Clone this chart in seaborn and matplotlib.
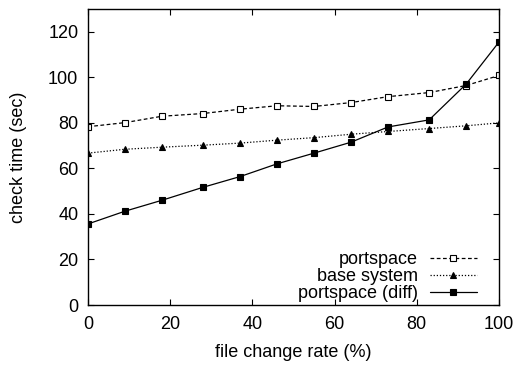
import matplotlib
matplotlib.use("Agg")
import matplotlib.pyplot as plt
import seaborn as sns
import pandas as pd

x_rate = [0, 9, 18, 28, 37, 46, 55, 64, 73, 83, 92, 100]
portspace = [78.3, 80.1, 82.9, 84.1, 86.0, 87.5, 87.2, 88.9, 91.5, 93.3, 96.4, 100.8]
base_system = [66.7, 68.4, 69.3, 70.2, 71.1, 72.4, 73.5, 75.0, 76.2, 77.5, 78.7, 80.0]
portspace_diff = [35.6, 41.2, 46.0, 51.7, 56.4, 62.0, 66.7, 71.5, 78.2, 81.3, 97.0, 115.5]

sns.set_style("ticks")
plt.rcParams['font.family'] = ['Liberation Sans', 'DejaVu Sans']
plt.rcParams['text.color'] = 'black'
plt.rcParams['axes.labelcolor'] = 'black'
plt.rcParams['xtick.color'] = 'black'
plt.rcParams['ytick.color'] = 'black'

fig = plt.figure(figsize=(5.16, 3.65), dpi=100)
ax = fig.add_axes([88/516, 1-305/365, (499-88)/516, (305-9)/365])

series = [
    ("portspace", portspace, (0, (3, 2)), "s", "white", 4.5),
    ("base system", base_system, (0, (1, 1.5)), "^", "black", 4.5),
    ("portspace (diff)", portspace_diff, "-", "s", "black", 4.5),
]
for name, vals, ls, mk, mfc, ms in series:
    df = pd.DataFrame({"x": x_rate, "y": vals})
    sns.lineplot(data=df, x="x", y="y", ax=ax, color="black", linewidth=0.9,
                 linestyle=ls, marker=mk, markersize=ms, markerfacecolor=mfc,
                 markeredgecolor="black", markeredgewidth=0.8, label=name)

ax.set_xlim(0, 100)
ax.set_ylim(0, 130)
ax.set_xticks([0, 20, 40, 60, 80, 100])
ax.set_yticks([0, 20, 40, 60, 80, 100, 120])
ax.tick_params(direction="in", top=True, right=True, length=4, width=0.8,
               labelsize=13, colors="black")
ax.tick_params(axis="x", pad=8)
ax.tick_params(axis="y", pad=7)
for s in ax.spines.values():
    s.set_linewidth(1.0)
    s.set_color("black")
ax.set_xlabel("file change rate (%)", fontsize=13, labelpad=8)
ax.set_ylabel("check time (sec)", fontsize=13, labelpad=15)

ax.legend(loc="lower right", frameon=False, markerfirst=False, fontsize=13,
          handlelength=2.6, handletextpad=0.65, labelspacing=0.0,
          borderpad=0, borderaxespad=0, bbox_to_anchor=(0.946, 0.01))

fig.savefig("out.png", dpi=100)
